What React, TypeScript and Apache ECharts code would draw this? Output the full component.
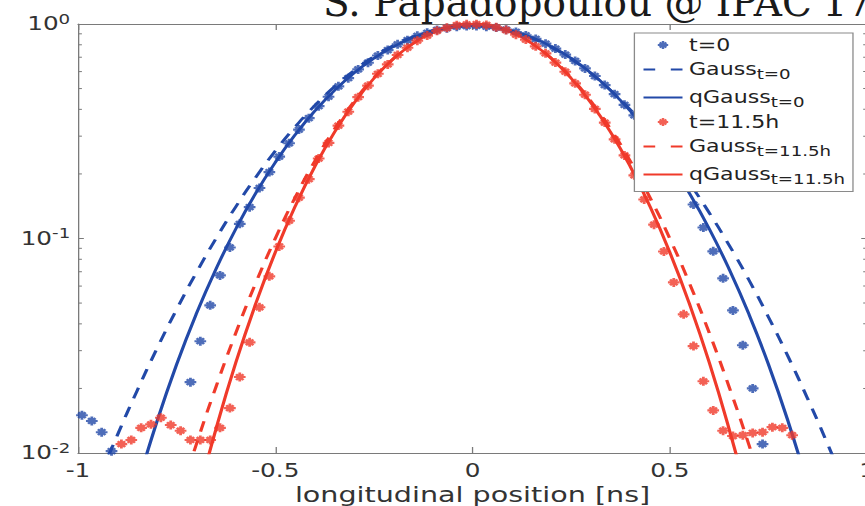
import React, { useEffect, useRef } from 'react';
import * as echarts from 'echarts';

// x positions of the measured profile points [ns]
const pointX = [
  -0.99, -0.965, -0.94, -0.915, -0.89, -0.865, -0.84, -0.815, -0.79, -0.765,
  -0.74, -0.715, -0.69, -0.665, -0.64, -0.615, -0.59, -0.565, -0.54, -0.515,
  -0.49, -0.465, -0.44, -0.415, -0.39, -0.365, -0.34, -0.315, -0.29, -0.265,
  -0.24, -0.215, -0.19, -0.165, -0.14, -0.115, -0.09, -0.065, -0.04, -0.015,
  0.01, 0.035, 0.06, 0.085, 0.11, 0.135, 0.16, 0.185, 0.21, 0.235,
  0.26, 0.285, 0.31, 0.335, 0.36, 0.385, 0.41, 0.435, 0.46, 0.485,
  0.51, 0.535, 0.56, 0.585, 0.61, 0.635, 0.66, 0.685, 0.71, 0.735,
  0.76, 0.785, 0.81, 0.835, 0.86, 0.885, 0.91, 0.935, 0.96, 0.985, 1.01,
];

// measured profile t=0 (null = below the visible range)
const pointsT0 = [
  0.0150, 0.0141, 0.0125, 0.0102, null, null, null, null, null, null,
  null, 0.0214, 0.0332, 0.0488, 0.0673, 0.0908, 0.117, 0.140, 0.172, 0.204,
  0.241, 0.278, 0.322, 0.364, 0.414, 0.458, 0.512, 0.559, 0.614, 0.660,
  0.713, 0.756, 0.804, 0.841, 0.881, 0.910, 0.938, 0.956, 0.972, 0.978,
  0.980, 0.972, 0.962, 0.941, 0.918, 0.885, 0.852, 0.810, 0.768, 0.720,
  0.673, 0.621, 0.572, 0.519, 0.471, 0.420, 0.375, 0.328, 0.288, 0.247,
  0.213, 0.178, 0.144, 0.1125, 0.0871, 0.0652, 0.0462, 0.0318, 0.0200, 0.0110,
  null, null, null, null, null, null, null, null, null, null, null,
];

// measured profile t=11.5h
const pointsT115 = [
  null, null, null, null, 0.0110, 0.0115, 0.0131, 0.0136, 0.0146, 0.0135,
  0.0127, 0.0115, 0.0115, 0.0115, 0.0131, 0.0162, 0.0226, 0.0328, 0.0478, 0.0666,
  0.0918, 0.121, 0.155, 0.189, 0.236, 0.279, 0.336, 0.390, 0.456, 0.516,
  0.586, 0.648, 0.717, 0.775, 0.836, 0.883, 0.930, 0.960, 0.987, 0.996,
  0.998, 0.990, 0.965, 0.937, 0.892, 0.846, 0.787, 0.730, 0.661, 0.599,
  0.529, 0.468, 0.402, 0.347, 0.290, 0.244, 0.197, 0.152, 0.116, 0.0870,
  0.0624, 0.0443, 0.0315, 0.0216, 0.0158, 0.0127, 0.0120, 0.0121, 0.0124, 0.0125,
  0.0132, 0.0131, 0.0121, null, null, null, null, null, null, null, null,
];

// x positions of the fit curves
const lineX = [
  -1, -0.95, -0.9, -0.85, -0.8, -0.75, -0.7, -0.65, -0.6, -0.55,
  -0.5, -0.45, -0.4, -0.35, -0.3, -0.25, -0.2, -0.15, -0.1, -0.05,
  0, 0.05, 0.1, 0.15, 0.2, 0.25, 0.3, 0.35, 0.4, 0.45,
  0.5, 0.55, 0.6, 0.65, 0.7, 0.75, 0.8, 0.85, 0.9, 0.95, 1,
];

const gaussT0 = [
  0.0043, 0.00733, 0.01213, 0.01955, 0.03066, 0.0467, 0.0694, 0.1001, 0.1407, 0.1924,
  0.2558, 0.3308, 0.4166, 0.5103, 0.6082, 0.7052, 0.7956, 0.8733, 0.9327, 0.9692,
  0.98, 0.9639, 0.9226, 0.859, 0.7783, 0.6861, 0.5885, 0.4911, 0.3987, 0.315,
  0.2422, 0.181, 0.1317, 0.0933, 0.0643, 0.043, 0.0281, 0.0178, 0.011, 0.0066, 0.0039,
];

const qGaussT0 = [
  0.00047, 0.0013, 0.0032, 0.007, 0.014, 0.0259, 0.0446, 0.0722, 0.1109, 0.162,
  0.2263, 0.3038, 0.3927, 0.4899, 0.5915, 0.692, 0.7853, 0.8657, 0.9276, 0.9667,
  0.98, 0.9667, 0.9276, 0.8657, 0.7853, 0.692, 0.5915, 0.4899, 0.3927, 0.3038,
  0.2263, 0.162, 0.1109, 0.0722, 0.0446, 0.0259, 0.014, 0.007, 0.0032, 0.0013, 0.00047,
];

const gaussT115 = [
  0.0001, 0.00025, 0.00058, 0.0013, 0.00276, 0.00563, 0.01098, 0.0204, 0.0363, 0.0617,
  0.1, 0.1549, 0.2292, 0.3237, 0.4366, 0.5624, 0.6919, 0.8129, 0.912, 0.9772,
  1.0, 0.9772, 0.912, 0.8129, 0.6919, 0.5624, 0.4366, 0.3237, 0.2292, 0.1549,
  0.1, 0.0617, 0.0363, 0.0204, 0.01098, 0.00563, 0.00276, 0.0013, 0.00058, 0.00025, 0.0001,
];

const qGaussT115 = [
  0.000004, 0.00002, 0.00008, 0.00029, 0.00089, 0.0024, 0.00588, 0.01298, 0.0264, 0.0494,
  0.0862, 0.1407, 0.2161, 0.3128, 0.4287, 0.5576, 0.6894, 0.812, 0.9118, 0.9772,
  1.0, 0.9772, 0.9118, 0.812, 0.6894, 0.5576, 0.4287, 0.3128, 0.2161, 0.1407,
  0.0862, 0.0494, 0.0264, 0.01298, 0.00588, 0.0024, 0.00089, 0.00029, 0.00008, 0.00002, 0.000004,
];

const minorLogTicks = [
  0.02, 0.03, 0.04, 0.05, 0.06, 0.07, 0.08, 0.09,
  0.2, 0.3, 0.4, 0.5, 0.6, 0.7, 0.8, 0.9,
];

const legendNames = ['t=0', 'Gauss_t=0', 'qGauss_t=0', 't=11.5h', 'Gauss_t=11.5h', 'qGauss_t=11.5h'];
const titleText = "S. Papadopoulou @ IPAC'17";
const xAxisName = 'longitudinal position [ns]';

const BLUE = '#2249a8';
const RED = '#f03a2a';
const AXIS = '#7a7a7a';
const LABEL = '#333333';
const FONT = 'DejaVu Sans';
const STRETCH = 1.3;

const STAR =
  'path://M-10,-2.4L10,-2.4L10,2.4L-10,2.4ZM2.4,-10L2.4,10L-2.4,10L-2.4,-10Z' +
  'M-4.67,-8.06L8.06,4.67L4.67,8.06L-8.06,-4.67Z' +
  'M-8.06,4.67L4.67,-8.06L8.06,-4.67L-4.67,8.06Z';

const pairs = (xs: number[], ys: (number | null)[]) =>
  xs.map((x, i) => [x, ys[i]]).filter((p) => p[1] !== null);

const scatterSeries = (name: string, ys: (number | null)[], color: string) => ({
  name,
  type: 'scatter',
  data: pairs(pointX, ys),
  symbol: STAR,
  symbolSize: 9,
  itemStyle: { color },
  z: 2,
});

const lineSeries = (name: string, ys: number[], color: string, dashed: boolean) => ({
  name,
  type: 'line',
  data: pairs(lineX, ys),
  symbol: 'none',
  showSymbol: false,
  smooth: true,
  clip: true,
  itemStyle: { color },
  lineStyle: { color, width: 2.5, type: dashed ? [11, 9] : 'solid' },
  z: 2,
});

const hiddenIconStyle = { color: 'rgba(0,0,0,0)', borderColor: 'rgba(0,0,0,0)', borderWidth: 0 };

export default function App() {
  const ref = useRef<HTMLDivElement>(null);

  useEffect(() => {
    if (!ref.current) return;
    const chart = echarts.init(ref.current, null, { renderer: 'svg' });

    const axisLine = { show: true, onZero: false, lineStyle: { color: AXIS, width: 1 } };

    const option: any = {
      animation: false,
      backgroundColor: '#ffffff',
      textStyle: { fontFamily: FONT },
      grid: { left: 60, right: -1, top: 24, bottom: 53, containLabel: false, outerBoundsMode: 'none' },
      xAxis: [
        {
          type: 'value',
          position: 'bottom',
          min: -1,
          max: 1,
          interval: 0.5,
          name: xAxisName,
          nameLocation: 'middle',
          nameGap: 30,
          nameMoveOverlap: false,
          nameTextStyle: { fontSize: 22, lineHeight: 22, color: LABEL, fontFamily: FONT },
          axisLine,
          axisTick: { show: true, inside: true, length: 6, lineStyle: { color: AXIS } },
          axisLabel: {
            fontSize: 19,
            lineHeight: 17,
            color: LABEL,
            fontFamily: FONT,
            margin: 9,
            showMinLabel: true,
            showMaxLabel: true,
            formatter: (v: number) => String(v),
          },
          splitLine: { show: false },
        },
        {
          type: 'value',
          position: 'top',
          min: -1,
          max: 1,
          interval: 0.5,
          axisLine,
          axisTick: { show: true, inside: true, length: 6, lineStyle: { color: AXIS } },
          axisLabel: { show: false },
          splitLine: { show: false },
        },
      ],
      yAxis: [
        {
          type: 'log',
          logBase: 10,
          position: 'left',
          min: 0.01,
          max: 1,
          axisLine,
          axisTick: { show: true, inside: true, length: 4.5, lineStyle: { color: AXIS } },
          axisLabel: {
            margin: 6,
            formatter: (v: number) => `{b|10}{s|${Math.round(Math.log10(v))}}`,
            rich: {
              b: { fontSize: 19, lineHeight: 24, color: LABEL, fontFamily: FONT },
              s: { fontSize: 14, lineHeight: 14, verticalAlign: 'top', color: LABEL, fontFamily: FONT },
            },
          },
          splitLine: { show: false },
          minorTick: { show: false },
        },
        {
          type: 'log',
          logBase: 10,
          position: 'right',
          min: 0.01,
          max: 1,
          axisLine,
          axisTick: { show: true, inside: true, length: 4.5, lineStyle: { color: AXIS } },
          axisLabel: { show: false },
          splitLine: { show: false },
        },
      ],
      legend: {
        orient: 'vertical',
        left: 488,
        top: 33,
        padding: [3.5, 6, 5, 6],
        itemWidth: 30,
        itemHeight: 8,
        itemGap: 4,
        selectedMode: false,
        backgroundColor: '#ffffff',
        borderColor: '#8a8a8a',
        borderWidth: 1,
        borderRadius: 0,
        data: legendNames.map((n) => {
          if (n.startsWith('Gauss')) return { name: n, itemStyle: hiddenIconStyle, lineStyle: { type: [9, 12] } };
          if (n.startsWith('qGauss')) return { name: n, itemStyle: hiddenIconStyle };
          return { name: n };
        }),
        formatter: (name: string) => {
          const parts = name.split('_');
          return parts.length > 1 ? `{b|${parts[0]}}{s|${parts[1]}}` : `{b|${name}}`;
        },
        textStyle: {
          color: '#222222',
          fontFamily: FONT,
          fontSize: 17,
          rich: {
            b: { fontSize: 17, lineHeight: 17, verticalAlign: 'top', color: '#222222', fontFamily: FONT },
            s: { fontSize: 14, lineHeight: 14, padding: [10, 0, 0, 0], color: '#222222', fontFamily: FONT },
          },
        },
      },
      graphic: [
        {
          type: 'text',
          x: 248.5,
          y: 2,
          scaleX: 1 / STRETCH,
          silent: true,
          style: {
            text: titleText,
            fill: '#1a1a1a',
            font: '39px "DejaVu Serif"',
            verticalAlign: 'middle',
            align: 'left',
          },
        },
      ],
      series: [
        scatterSeries('t=0', pointsT0, BLUE),
        lineSeries('Gauss_t=0', gaussT0, BLUE, true),
        lineSeries('qGauss_t=0', qGaussT0, BLUE, false),
        scatterSeries('t=11.5h', pointsT115, RED),
        lineSeries('Gauss_t=11.5h', gaussT115, RED, true),
        lineSeries('qGauss_t=11.5h', qGaussT115, RED, false),
        {
          type: 'custom',
          name: 'minorTicks',
          silent: true,
          clip: false,
          z: 10,
          data: minorLogTicks.map((v) => [0, v]),
          encode: { x: 0, y: 1 },
          renderItem: (_params: any, api: any) => {
            const v = api.value(1);
            const l = api.coord([-1, v]);
            const r = api.coord([1, v]);
            return {
              type: 'group',
              children: [
                { type: 'line', shape: { x1: l[0], y1: l[1], x2: l[0] + 3, y2: l[1] }, style: { stroke: AXIS, lineWidth: 1 } },
                { type: 'line', shape: { x1: r[0], y1: r[1], x2: r[0] - 3, y2: r[1] }, style: { stroke: AXIS, lineWidth: 1 } },
              ],
            };
          },
        },
      ],
    };

    chart.setOption(option);
    return () => chart.dispose();
  }, []);

  return (
    <div
      ref={ref}
      style={{
        position: 'fixed',
        left: 0,
        top: 0,
        width: 666,
        height: 506,
        transform: `scaleX(${STRETCH})`,
        transformOrigin: '0 0',
        background: '#ffffff',
      }}
    />
  );
}
